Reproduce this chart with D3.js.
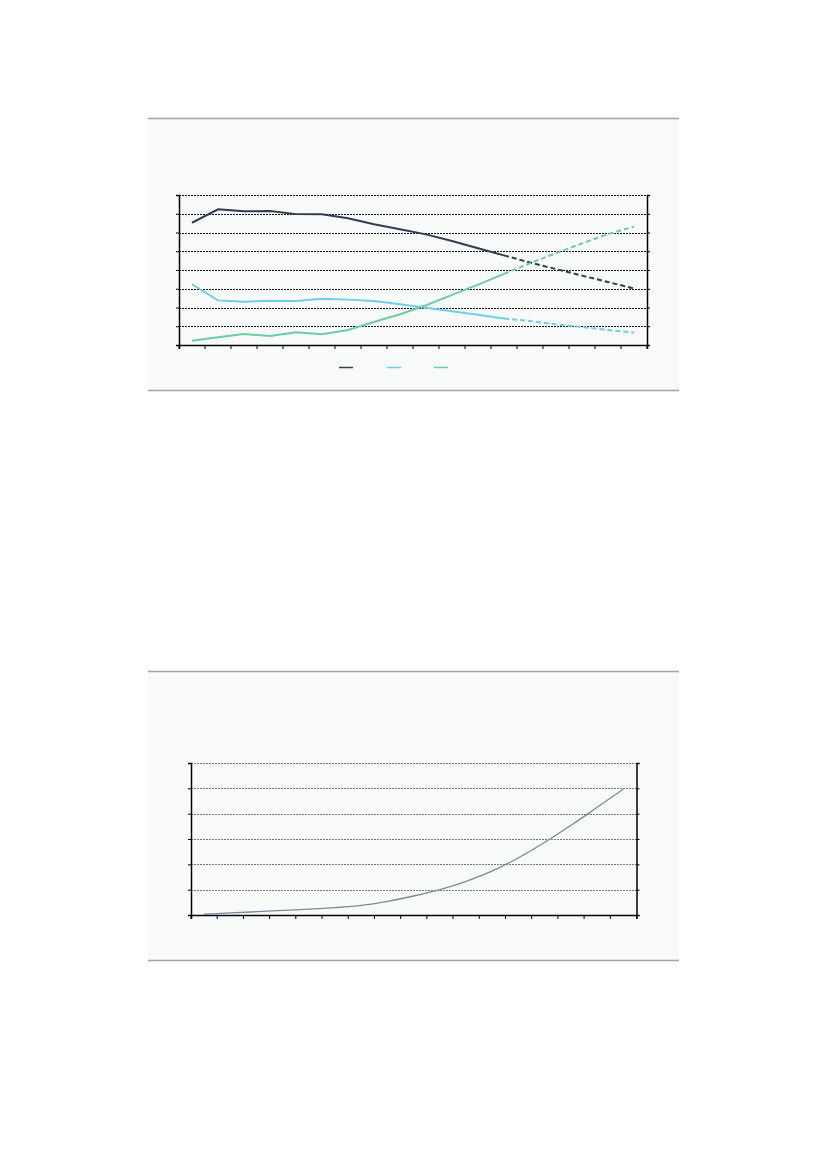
<!DOCTYPE html>
<html>
<head>
<meta charset="utf-8">
<script src="https://cdn.jsdelivr.net/npm/d3@7"></script>
<style>
    body { margin: 0; background: #ffffff; }
    svg { display: block; }
</style>
</head>
<body>
<svg id="page" width="827" height="1169"></svg>
<script>
// Chart data:
//------------------------------------
var topCategories = ["1", "2", "3", "4", "5", "6", "7", "8", "9", "10", "11", "12", "13", "14", "15", "16", "17", "18"];
var topTicks = [0, 10, 20, 30, 40, 50, 60, 70, 80];
var lastActual = 12;   // index where the solid part ends and the dashed projection starts

var darkValues  = [65.2, 72.4, 71.3, 71.5, 69.8, 69.7, 67.6, 64.4, 61.7, 59.0, 55.5, 51.6, 47.8, 44.0, 40.5, 37.0, 33.6, 30.1];
var blueValues  = [32.4, 23.8, 23.1, 23.6, 23.5, 24.7, 24.2, 23.5, 21.7, 19.9, 18.0, 16.1, 14.1, 12.8, 11.0, 9.6, 8.0, 6.6];
var greenValues = [2.3, 4.1, 5.9, 4.8, 6.8, 5.7, 8.0, 12.3, 16.4, 21.2, 26.7, 32.2, 37.9, 43.6, 49.0, 54.2, 59.2, 63.1];

var bottomCategories = ["1", "2", "3", "4", "5", "6", "7", "8", "9", "10", "11", "12", "13", "14", "15", "16", "17"];
var bottomTicks = [0, 10, 20, 30, 40, 50, 60];
var bottomValues = [0.3, 0.8, 1.3, 1.8, 2.3, 2.9, 3.8, 5.4, 7.5, 10.0, 13.3, 17.4, 22.6, 28.7, 35.4, 42.5, 49.7];

var topSeries = [
    { "name": "dark",  "values": darkValues,  "color": "#2e3d52" },
    { "name": "blue",  "values": blueValues,  "color": "#6dcfe8" },
    { "name": "green", "values": greenValues, "color": "#6fcc9c" }
];
//------------------------------------

var svg = d3.select("#page");

// grey framed panel, only top and bottom rules
function panel(y0, y1) {
    svg.append("rect")
        .attr("x", 148).attr("y", y0)
        .attr("width", 531).attr("height", y1 - y0)
        .attr("fill", "#f8fafa");
    [y0, y1].forEach(function (y) {
        svg.append("line")
            .attr("x1", 148).attr("x2", 679)
            .attr("y1", y + 0.5).attr("y2", y + 0.5)
            .attr("stroke", "#a3a3a3").attr("stroke-width", 1.3);
    });
}

// frame with gridlines, left/right axes and category ticks
function frame(g, x, y, ticks, gridColor) {
    var left = x.range()[0], right = x.range()[1];
    g.selectAll(".grid")
        .data(ticks.slice(1))
        .enter().append("line")
        .attr("x1", left).attr("x2", right)
        .attr("y1", function (d) { return Math.round(y(d)) + 0.5; })
        .attr("y2", function (d) { return Math.round(y(d)) + 0.5; })
        .attr("stroke", gridColor).attr("stroke-width", 1)
        .attr("stroke-dasharray", "2,1");

    var yLeft = d3.axisLeft(y).tickValues(ticks).tickSize(3).tickFormat("");
    var yRight = d3.axisRight(y).tickValues(ticks).tickSize(3).tickFormat("");
    var xAxis = d3.axisBottom(x).tickSize(4).tickFormat("");

    g.append("g").attr("transform", "translate(" + left + ",0)").call(yLeft);
    g.append("g").attr("transform", "translate(" + right + ",0)").call(yRight);
    var xg = g.append("g").attr("transform", "translate(0," + y.range()[0] + ")").call(xAxis);
    // ticks on the band edges, not the centres
    xg.selectAll(".tick").remove();
    xg.selectAll(".edge")
        .data(d3.range(x.domain().length + 1))
        .enter().append("line")
        .attr("x1", function (i) { return left + i * x.step(); })
        .attr("x2", function (i) { return left + i * x.step(); })
        .attr("y1", 0).attr("y2", 4)
        .attr("stroke", "#000");

    g.selectAll(".domain").attr("stroke", "#000").attr("stroke-width", 1.5);
    g.selectAll(".tick line").attr("stroke", "#000");
}

//============================================================================================
// Top chart: three shares, solid history and dashed projection
panel(118, 390);

var xTop = d3.scaleBand().domain(topCategories).range([179, 647]);
var yTop = d3.scaleLinear().domain([0, 80]).range([345, 195]);
var gTop = svg.append("g");
frame(gTop, xTop, yTop, topTicks, "#111");

var lineTop = d3.line()
    .x(function (d) { return xTop(d.cat) + xTop.bandwidth() / 2; })
    .y(function (d) { return yTop(d.v); });

topSeries.forEach(function (s) {
    var pts = s.values.map(function (v, i) { return { "cat": topCategories[i], "v": v }; });
    gTop.append("path")
        .datum(pts.slice(0, lastActual + 1))
        .attr("d", lineTop)
        .attr("fill", "none").attr("stroke", s.color).attr("stroke-width", 2);
    gTop.append("path")
        .datum(pts.slice(lastActual))
        .attr("d", lineTop)
        .attr("fill", "none").attr("stroke", s.color).attr("stroke-width", 2)
        .attr("stroke-dasharray", "5,3");
});

// legend: just the line keys
var legendX = [339, 387, 434];
gTop.selectAll(".key")
    .data(topSeries)
    .enter().append("line")
    .attr("x1", function (d, i) { return legendX[i]; })
    .attr("x2", function (d, i) { return legendX[i] + 14; })
    .attr("y1", 367.5).attr("y2", 367.5)
    .attr("stroke", function (d) { return d.color; })
    .attr("stroke-width", 1.5);

//============================================================================================
// Bottom chart: single rising curve
panel(671, 960);

var xBot = d3.scaleBand().domain(bottomCategories).range([191, 636.5]);
var yBot = d3.scaleLinear().domain([0, 60]).range([915, 763]);
var gBot = svg.append("g");
frame(gBot, xBot, yBot, bottomTicks, "#7a7a7a");

var lineBot = d3.line()
    .curve(d3.curveMonotoneX)
    .x(function (d, i) { return xBot(bottomCategories[i]) + xBot.bandwidth() / 2; })
    .y(function (d) { return yBot(d); });

gBot.append("path")
    .datum(bottomValues)
    .attr("d", lineBot)
    .attr("fill", "none").attr("stroke", "#7d889b").attr("stroke-width", 1.3);
</script>
</body>
</html>
